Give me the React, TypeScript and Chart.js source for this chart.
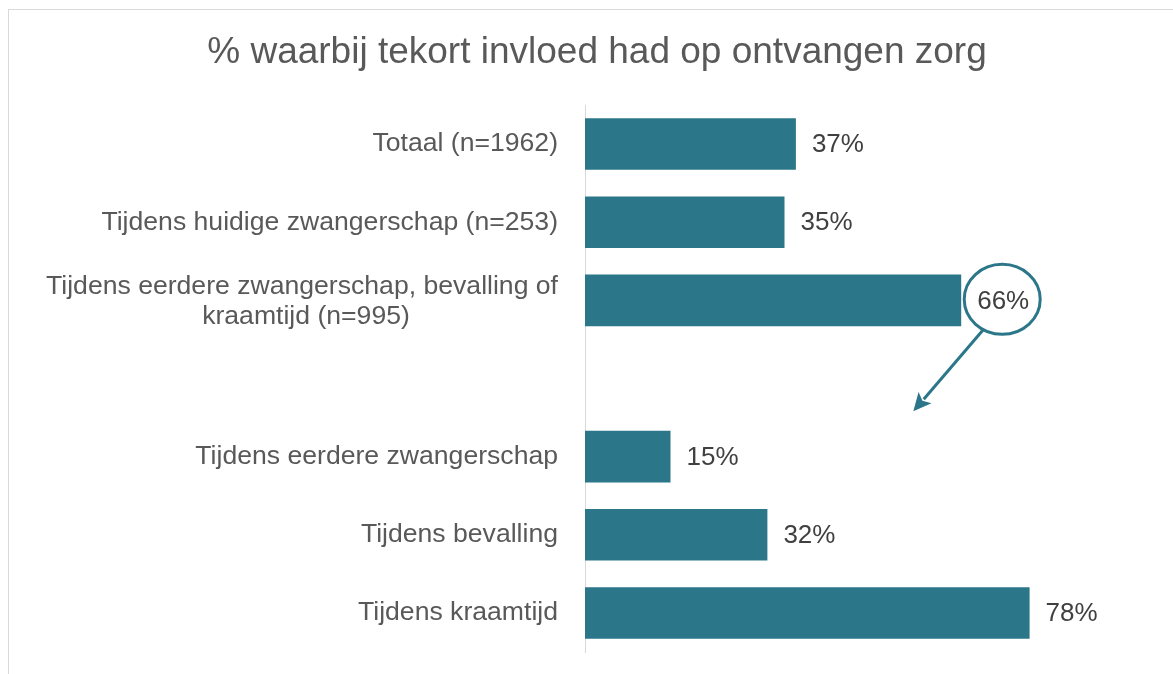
import React, { useEffect, useRef } from "react";
import { Chart, registerables } from "chart.js";

Chart.register(...registerables);

const TITLE = "% waarbij tekort invloed had op ontvangen zorg";
const CATEGORIES: (string | string[])[] = [
  "Totaal (n=1962)",
  "Tijdens huidige zwangerschap (n=253)",
  ["Tijdens eerdere zwangerschap, bevalling of", "kraamtijd (n=995)"],
  "",
  "Tijdens eerdere zwangerschap",
  "Tijdens bevalling",
  "Tijdens kraamtijd",
];
const VALUES: (number | null)[] = [37, 35, 66, null, 15, 32, 78];
const HIGHLIGHT_INDEX = 2;

const BAR_COLOR = "#2B7689";
const LABEL_COLOR = "#595959";
const VALUE_COLOR = "#404040";
const FONT = "'Liberation Sans', Arial, sans-serif";

const customPlugin = {
  id: "custom",
  beforeDraw(chart: any) {
    const ctx = chart.ctx;
    ctx.save();
    ctx.fillStyle = "#ffffff";
    ctx.fillRect(0, 0, chart.width, chart.height);
    ctx.strokeStyle = "#d9d9d9";
    ctx.lineWidth = 1;
    ctx.strokeRect(8.5, 9.5, chart.width + 50, chart.height + 50);
    ctx.fillStyle = LABEL_COLOR;
    ctx.font = `37px ${FONT}`;
    ctx.textAlign = "center";
    ctx.textBaseline = "alphabetic";
    ctx.fillText(TITLE, 597, 63);
    ctx.restore();
  },
  afterDatasetsDraw(chart: any) {
    const ctx = chart.ctx;
    const meta = chart.getDatasetMeta(0);
    const yScale = chart.scales.y;
    const xScale = chart.scales.x;
    const axisX = chart.chartArea.left;
    ctx.save();
    // category labels
    ctx.fillStyle = LABEL_COLOR;
    ctx.font = `26.6px ${FONT}`;
    ctx.textBaseline = "middle";
    CATEGORIES.forEach((lab, i) => {
      const y = yScale.getPixelForValue(i);
      const lines = Array.isArray(lab) ? lab : [lab];
      if (!lines[0]) return;
      const right = axisX - 27;
      if (lines.length === 1) {
        ctx.textAlign = "right";
        ctx.fillText(lines[0], right, y);
      } else {
        const maxW = Math.max(...lines.map((l) => ctx.measureText(l).width));
        const cx = right - maxW / 2;
        const lh = 30;
        ctx.textAlign = "center";
        lines.forEach((l, k) => {
          ctx.fillText(l, cx + (k > 0 ? 4 : 0), y + 1 + (k - (lines.length - 1) / 2) * lh);
        });
      }
    });
    // value labels
    ctx.fillStyle = VALUE_COLOR;
    ctx.font = `26px ${FONT}`;
    ctx.textAlign = "left";
    let circle: { cx: number; cy: number } | null = null;
    meta.data.forEach((bar: any, i: number) => {
      const v = VALUES[i];
      if (v === null || v === undefined) return;
      const txt = `${v}%`;
      const x = bar.x + 16;
      ctx.fillText(txt, x, bar.y + 1);
      if (i === HIGHLIGHT_INDEX) {
        const w = ctx.measureText(txt).width;
        circle = { cx: x + w / 2, cy: bar.y };
      }
    });
    if (circle) {
      const { cx, cy } = circle as any;
      const rx = 38;
      const ry = 35;
      const ccy = cy - 1;
      ctx.strokeStyle = BAR_COLOR;
      ctx.lineWidth = 3;
      ctx.beginPath();
      ctx.ellipse(cx - 1, ccy, rx, ry, 0, 0, Math.PI * 2);
      ctx.stroke();
      // arrow
      const ang = (120 * Math.PI) / 180;
      const sx = cx - 1 + rx * Math.cos(ang);
      const sy = ccy + ry * Math.sin(ang);
      const tx = xScale.getPixelForValue(57.6);
      const ty = yScale.getPixelForValue(3.42);
      const dx = tx - sx;
      const dy = ty - sy;
      const len = Math.hypot(dx, dy);
      const ux = dx / len;
      const uy = dy / len;
      const headLen = 18;
      const headW = 8.5;
      const bx = tx - ux * headLen;
      const by = ty - uy * headLen;
      ctx.lineWidth = 3;
      ctx.beginPath();
      ctx.moveTo(sx, sy);
      ctx.lineTo(bx + ux * 2, by + uy * 2);
      ctx.stroke();
      ctx.fillStyle = BAR_COLOR;
      ctx.beginPath();
      ctx.moveTo(tx, ty);
      ctx.lineTo(bx - uy * headW, by + ux * headW);
      ctx.lineTo(bx + ux * 4, by + uy * 4);
      ctx.lineTo(bx + uy * headW, by - ux * headW);
      ctx.closePath();
      ctx.fill();
    }
    ctx.restore();
  },
};

export default function App() {
  const ref = useRef<HTMLCanvasElement>(null);
  useEffect(() => {
    if (!ref.current) return;
    const chart = new Chart(ref.current, {
      type: "bar",
      data: {
        labels: CATEGORIES.map((c) => (Array.isArray(c) ? c.join(" ") : c)),
        datasets: [
          {
            data: VALUES,
            backgroundColor: BAR_COLOR,
            borderWidth: 0,
            categoryPercentage: 1,
            barPercentage: 0.66,
          },
        ],
      },
      options: {
        indexAxis: "y",
        responsive: false,
        animation: false,
        devicePixelRatio: 1,
        layout: { padding: { left: 0, top: 105, right: 18, bottom: 22 } },
        plugins: {
          legend: { display: false },
          tooltip: { enabled: false },
          title: { display: false },
        },
        scales: {
          x: {
            display: false,
            min: 0,
            max: 100,
          },
          y: {
            display: true,
            grid: { display: false },
            border: { display: true, color: "#d9d9d9", width: 1 },
            ticks: { display: false },
            afterFit(scale: any) {
              scale.width = 585;
            },
          },
        },
      },
      plugins: [customPlugin],
    });
    return () => chart.destroy();
  }, []);
  return (
    <div style={{ position: "absolute", left: 0, top: 0, width: 1173, height: 674 }}>
      <canvas ref={ref} width={1173} height={674} />
    </div>
  );
}
